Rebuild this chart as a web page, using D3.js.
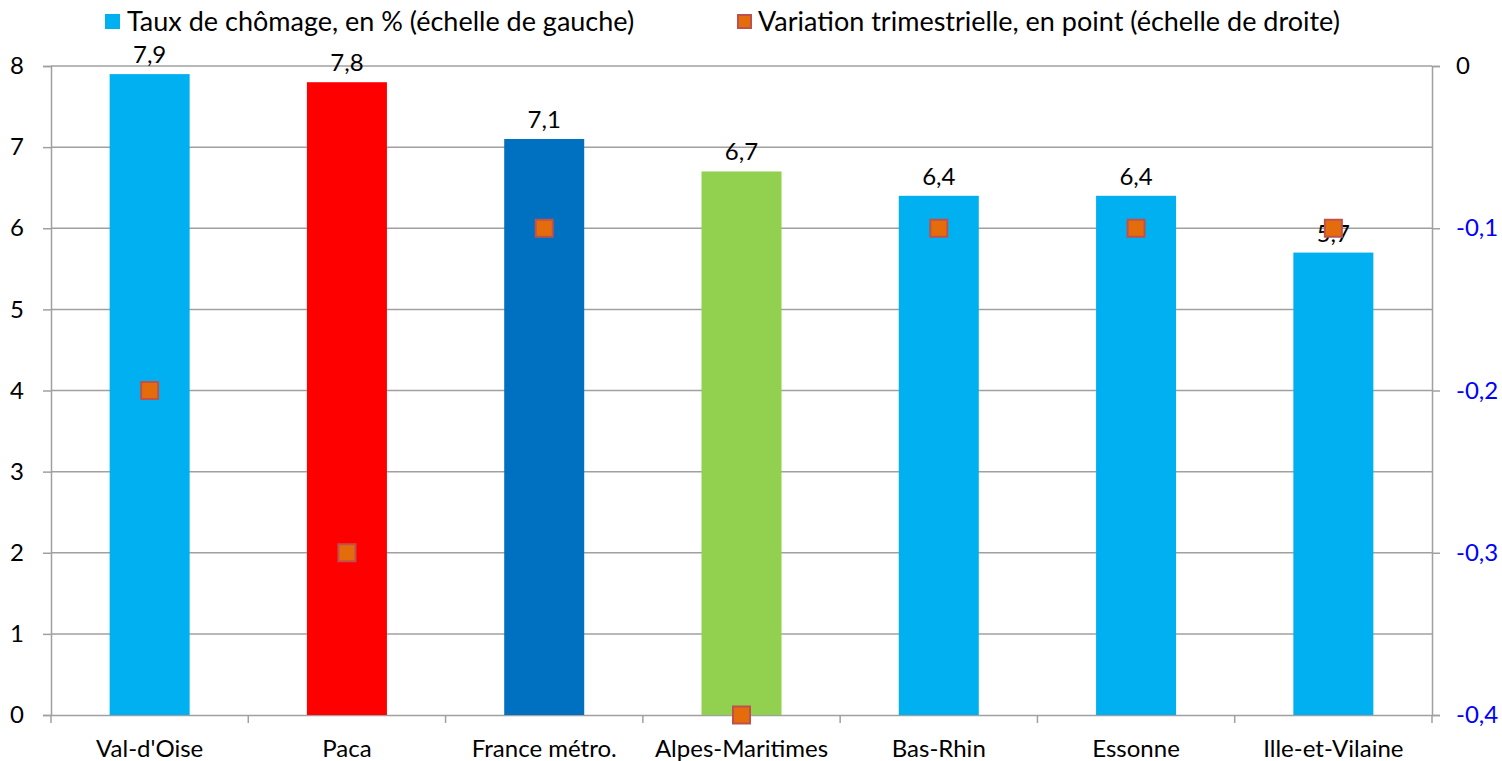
<!DOCTYPE html>
<html>
<head>
<meta charset="utf-8">
<script src="https://cdn.jsdelivr.net/npm/d3@7"></script>
<style>
  body { margin: 0; background: #fff; }
  text { font-family: Lato, "Open Sans", sans-serif; }
</style>
</head>
<body>
<div id="chart"></div>
<script>
// data
let categories = ["Val-d'Oise", "Paca", "France métro.", "Alpes-Maritimes", "Bas-Rhin", "Essonne", "Ille-et-Vilaine"];
let taux = [7.9, 7.8, 7.1, 6.7, 6.4, 6.4, 5.7];
let variation = [-0.2, -0.3, -0.1, -0.4, -0.1, -0.1, -0.1];
let barColors = ["#00B0F0", "#FF0000", "#0070C0", "#92D050", "#00B0F0", "#00B0F0", "#00B0F0"];
let leftTicks = [0, 1, 2, 3, 4, 5, 6, 7, 8];
let rightTicks = [0, -0.1, -0.2, -0.3, -0.4];
let legendLabels = ["Taux de chômage, en % (échelle de gauche)", "Variation trimestrielle, en point (échelle de droite)"];

var W = 1502, H = 761;
var margin = {top: 66, right: 70, bottom: 46, left: 51};
var width = W - margin.left - margin.right,
    height = H - margin.top - margin.bottom;

var fmt = v => String(v).replace(".", ",");

var root = d3.select("#chart").append("svg")
    .attr("width", W).attr("height", H);
var svg = root.append("g")
    .attr("transform", "translate(" + margin.left + "," + margin.top + ")");

var x = d3.scaleBand().domain(categories).range([0, width]);
var y = d3.scaleLinear().domain([0, 8]).range([height, 0]);
var y2 = d3.scaleLinear().domain([-0.4, 0]).range([height, 0]);

// gridlines
svg.append("g").selectAll("line")
  .data(leftTicks.filter(d => d > 0))
  .enter().append("line")
    .attr("x1", 0).attr("x2", width)
    .attr("y1", d => y(d)).attr("y2", d => y(d))
    .attr("stroke", "#a0a0a0").attr("stroke-width", 1.5);

// left axis
var gl = svg.append("g")
  .call(d3.axisLeft(y).tickValues(leftTicks).tickSize(8).tickPadding(19).tickFormat(fmt));
gl.selectAll("text").style("font-size", "24px").attr("fill", "#000");

// right axis
var gr = svg.append("g").attr("transform", "translate(" + width + ",0)")
  .call(d3.axisRight(y2).tickValues(rightTicks).tickSize(8).tickPadding(16).tickFormat(fmt));
gr.selectAll("text").style("font-size", "24px")
  .attr("fill", d => d == 0 ? "#000" : "#0000FF");

// bottom axis with ticks between categories
var gb = svg.append("g").attr("transform", "translate(0," + height + ")")
  .call(d3.axisBottom(x).tickSize(0).tickPadding(25));
gb.selectAll("text").style("font-size", "24px").attr("fill", "#000");
gb.selectAll(".sep")
  .data(d3.range(categories.length + 1))
  .enter().append("line")
    .attr("x1", i => i * x.step()).attr("x2", i => i * x.step())
    .attr("y1", 0).attr("y2", 8)
    .attr("stroke", "#a0a0a0").attr("stroke-width", 1.5);

[gl, gr, gb].forEach(g => {
  g.selectAll(".domain, .tick line").attr("stroke", "#a0a0a0").attr("stroke-width", 1.5);
});

// bars
var bw = 80;
svg.append("g").selectAll("rect")
  .data(categories)
  .enter().append("rect")
    .attr("x", (d, i) => x(d) + x.bandwidth() / 2 - bw / 2)
    .attr("y", (d, i) => y(taux[i]))
    .attr("width", bw)
    .attr("height", (d, i) => height - y(taux[i]))
    .attr("fill", (d, i) => barColors[i]);

// bar labels
svg.append("g").selectAll("text")
  .data(categories)
  .enter().append("text")
    .attr("x", d => x(d) + x.bandwidth() / 2)
    .attr("y", (d, i) => y(taux[i]) - 11)
    .attr("text-anchor", "middle")
    .style("font-size", "24px")
    .text((d, i) => fmt(taux[i]));

// markers
var ms = 17;
svg.append("g").selectAll("rect")
  .data(categories)
  .enter().append("rect")
    .attr("x", d => x(d) + x.bandwidth() / 2 - ms / 2)
    .attr("y", (d, i) => y2(variation[i]) - ms / 2)
    .attr("width", ms).attr("height", ms)
    .attr("fill", "#E46C0A")
    .attr("stroke", "#C0504D").attr("stroke-width", 2);

// legend
var leg = root.append("g");
leg.append("rect").attr("x", 105).attr("y", 14).attr("width", 15).attr("height", 15).attr("fill", "#00B0F0");
leg.append("text").attr("x", 127).attr("y", 31).style("font-size", "27px").text(legendLabels[0]);
leg.append("rect").attr("x", 738).attr("y", 15).attr("width", 13).attr("height", 13)
  .attr("fill", "#E46C0A").attr("stroke", "#C0504D").attr("stroke-width", 2);
leg.append("text").attr("x", 758).attr("y", 31).style("font-size", "27px").text(legendLabels[1]);
</script>
</body>
</html>
